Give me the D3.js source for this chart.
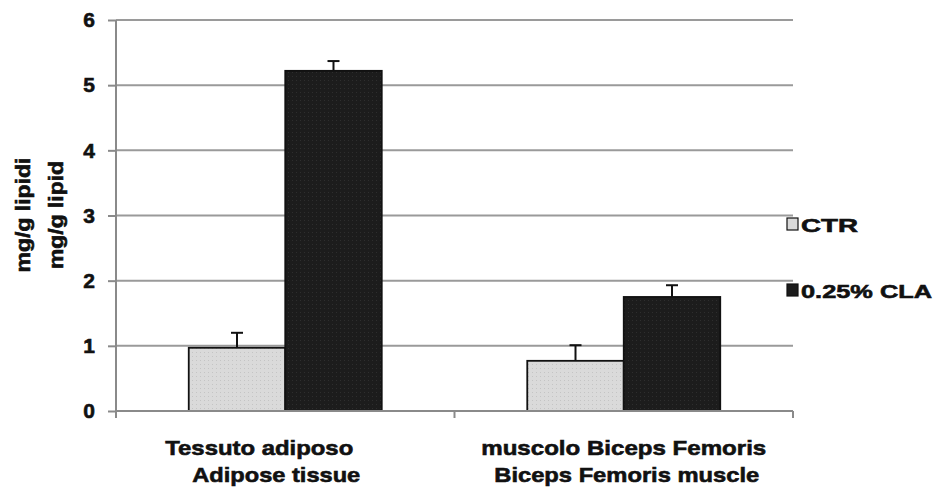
<!DOCTYPE html>
<html>
<head>
<meta charset="utf-8">
<script src="https://cdn.jsdelivr.net/npm/d3@7"></script>
<style>
  html, body { margin: 0; padding: 0; background: #fff; }
  svg { display: block; }
  text { font-family: "Liberation Sans", Arial, sans-serif; font-weight: bold; fill: #111; stroke: #111; stroke-width: 0.6px; }
</style>
</head>
<body>
<svg id="chart" width="939" height="491"></svg>
<script>
// Tissue categories (Italian / English label lines)
const categories = ["adipose", "biceps"];
const labelsIt = ["Tessuto adiposo", "muscolo Biceps Femoris"];
const labelsEn = ["Adipose tissue", "Biceps Femoris muscle"];

// Diet groups
const series = ["CTR", "0.25% CLA"];

// Mean values (mg/g lipid) and upper error bars
const ctrValues = [0.97, 0.77];
const ctrErrors = [0.23, 0.24];
const claValues = [5.22, 1.75];
const claErrors = [0.15, 0.18];

// Axis ticks
const yTicks = [0, 1, 2, 3, 4, 5, 6];
const yLabelLines = ["mg/g lipidi", "mg/g lipid"];

const svg = d3.select("#chart");

const plotLeft = 116, plotRight = 793, plotTop = 20, plotBottom = 411;

const x = d3.scaleBand().domain(categories).range([plotLeft, plotRight]).paddingInner(0).paddingOuter(0);
const xs = d3.scaleBand().domain(series).range([0, x.bandwidth()]).paddingInner(0).paddingOuter(0.754);
const y = d3.scaleLinear().domain([0, 6]).range([plotBottom, plotTop]);

const fills = { "CTR": "#d9d9d9", "0.25% CLA": "#1b1b1b" };

// Light stipple texture inside the bars
const defs = svg.append("defs");
const pLight = defs.append("pattern").attr("id", "dotsLight").attr("patternUnits", "userSpaceOnUse")
  .attr("width", 4).attr("height", 4);
pLight.append("rect").attr("width", 4).attr("height", 4).attr("fill", "#dadada");
pLight.append("rect").attr("width", 1).attr("height", 1).attr("fill", "#c4c4c4");
const pDark = defs.append("pattern").attr("id", "dotsDark").attr("patternUnits", "userSpaceOnUse")
  .attr("width", 4).attr("height", 4);
pDark.append("rect").attr("width", 4).attr("height", 4).attr("fill", "#1c1c1c");
pDark.append("rect").attr("width", 1).attr("height", 1).attr("fill", "#2e2e2e");
const patternFill = { "CTR": "url(#dotsLight)", "0.25% CLA": "url(#dotsDark)" };

// Horizontal gridlines
svg.append("g").selectAll("line")
  .data(yTicks.filter(t => t > 0))
  .join("line")
  .attr("x1", plotLeft).attr("x2", plotRight)
  .attr("y1", d => y(d)).attr("y2", d => y(d))
  .attr("stroke", "#9a9a9a").attr("stroke-width", 2);

// Y axis
const yAxis = svg.append("g")
  .attr("transform", `translate(${plotLeft},0)`)
  .call(d3.axisLeft(y).tickValues(yTicks).tickSize(8).tickPadding(13).tickFormat(d3.format("d")));
yAxis.select(".domain").attr("stroke", "#8a8a8a").attr("stroke-width", 2)
  .attr("d", `M0,${plotTop}V${plotBottom + 4}`);
yAxis.selectAll(".tick line").attr("stroke", "#8a8a8a").attr("stroke-width", 2);
yAxis.selectAll(".tick text").style("font-size", "21px").style("font-family", "'Liberation Sans', Arial, sans-serif")
  .style("font-weight", "bold").attr("fill", "#111").attr("stroke", "#111").attr("stroke-width", 0.6);

// Bars
const rows = [];
categories.forEach((c, i) => {
  rows.push({ cat: c, s: "CTR", v: ctrValues[i], e: ctrErrors[i] });
  rows.push({ cat: c, s: "0.25% CLA", v: claValues[i], e: claErrors[i] });
});

svg.append("g").selectAll("rect")
  .data(rows)
  .join("rect")
  .attr("x", d => x(d.cat) + xs(d.s))
  .attr("y", d => y(d.v))
  .attr("width", xs.bandwidth())
  .attr("height", d => y(0) - y(d.v))
  .attr("fill", d => patternFill[d.s])
  .attr("stroke", "#111").attr("stroke-width", 1.8);

// Error bars (upper only)
const eg = svg.append("g").attr("stroke", "#111").attr("stroke-width", 2);
eg.selectAll("line.stem")
  .data(rows).join("line").attr("class", "stem")
  .attr("x1", d => x(d.cat) + xs(d.s) + xs.bandwidth() / 2)
  .attr("x2", d => x(d.cat) + xs(d.s) + xs.bandwidth() / 2)
  .attr("y1", d => y(d.v)).attr("y2", d => y(d.v + d.e));
eg.selectAll("line.cap")
  .data(rows).join("line").attr("class", "cap")
  .attr("x1", d => x(d.cat) + xs(d.s) + xs.bandwidth() / 2 - 6)
  .attr("x2", d => x(d.cat) + xs(d.s) + xs.bandwidth() / 2 + 6)
  .attr("y1", d => y(d.v + d.e)).attr("y2", d => y(d.v + d.e));

// X axis baseline with ticks at category boundaries
svg.append("line")
  .attr("x1", plotLeft).attr("x2", plotRight).attr("y1", plotBottom).attr("y2", plotBottom)
  .attr("stroke", "#8a8a8a").attr("stroke-width", 2);
const xBoundaries = categories.map(c => x(c)).concat([x(categories[categories.length - 1]) + x.bandwidth()]);
svg.append("g").selectAll("line")
  .data(xBoundaries).join("line")
  .attr("x1", d => d).attr("x2", d => d)
  .attr("y1", plotBottom).attr("y2", plotBottom + 7)
  .attr("stroke", "#8a8a8a").attr("stroke-width", 2);

// Category labels (two lines each)
const lineOffsets = [[-26, -9], [0, 3]];
const lineWidths = [[188, 168], [285, 265]];
categories.forEach((c, i) => {
  const cx = x(c) + x.bandwidth() / 2;
  svg.append("text")
    .attr("x", cx + lineOffsets[i][0]).attr("y", 455)
    .attr("text-anchor", "middle").style("font-size", "21px")
    .attr("textLength", lineWidths[i][0]).attr("lengthAdjust", "spacingAndGlyphs")
    .text(labelsIt[i]);
  svg.append("text")
    .attr("x", cx + lineOffsets[i][1]).attr("y", 482)
    .attr("text-anchor", "middle").style("font-size", "21px")
    .attr("textLength", lineWidths[i][1]).attr("lengthAdjust", "spacingAndGlyphs")
    .text(labelsEn[i]);
});

// Y axis title (two rotated lines)
const yTitleX = [30, 63];
const yTitleLen = [115, 108];
yLabelLines.forEach((t, i) => {
  svg.append("text")
    .attr("transform", `translate(${yTitleX[i]},${215}) rotate(-90)`)
    .attr("text-anchor", "middle").style("font-size", "20px")
    .attr("textLength", yTitleLen[i]).attr("lengthAdjust", "spacingAndGlyphs")
    .text(t);
});

// Legend
const legendY = [224, 290];
const legend = svg.append("g");
series.forEach((s, i) => {
  legend.append("rect")
    .attr("x", 787).attr("y", legendY[i] - 6)
    .attr("width", 11).attr("height", 12)
    .attr("fill", fills[s]).attr("stroke", "#111").attr("stroke-width", 1.2);
  legend.append("text")
    .attr("x", 801).attr("y", legendY[i] + 8)
    .style("font-size", "19px")
    .attr("textLength", i === 0 ? 57 : 131).attr("lengthAdjust", "spacingAndGlyphs")
    .text(s);
});
</script>
</body>
</html>
